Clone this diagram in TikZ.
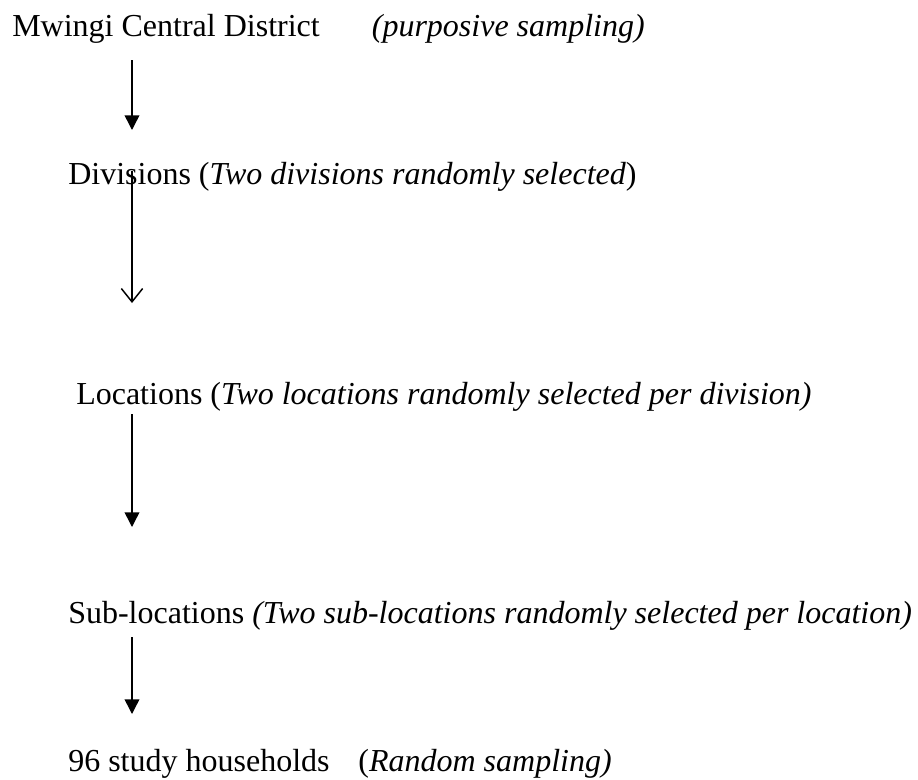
\documentclass[tikz,border=0pt]{standalone}
\usepackage{fontspec}
\setmainfont{Liberation Serif}
\usetikzlibrary{arrows,arrows.meta,positioning}
\tikzstyle{lbl} = [anchor=base west, inner sep=0pt, font=\fontsize{24}{28}\selectfont]
\tikzstyle{note} = [lbl, anchor=base east]
\tikzstyle{arrow} = [line width=1.1pt,-{Triangle[length=11pt,width=11pt]}]
\tikzstyle{openarrow} = [line width=1.1pt,-{Straight Barb[length=10pt,width=16pt,line width=1.1pt]}]

\begin{document}
\begin{tikzpicture}[x=0.75pt, y=-0.75pt]
\useasboundingbox (0,0) rectangle (918,779);
% Sampling levels
\node[lbl] (district) at (12,36) {Mwingi Central District};
\node[note] (districtnote) at (645,36) {\textit{(purposive sampling)}};
\node[lbl] (divisions) at (68,184) {Divisions (\textit{Two divisions randomly selected})};
\node[lbl] (locations) at (76,404) {Locations (\textit{Two locations randomly selected per division)}};
\node[lbl] (sublocations) at (68,623) {Sub-locations \textit{(Two sub-locations randomly selected per location)}};
\node[lbl] (households) at (68,771) {96 study households};
\node[note] (householdsnote) at (612,771) {(\textit{Random sampling)}};

% Arrow ends
\coordinate (s1) at (132,60);  \coordinate (e1) at (132,130);
\coordinate (s2) at (132,171); \coordinate (e2) at (132,303);
\coordinate (s3) at (132,414); \coordinate (e3) at (132,527);
\coordinate (s4) at (132,637); \coordinate (e4) at (132,714);

% Arrows between levels
\draw[arrow] (s1) -- (e1);
\draw[openarrow] (s2) -- (e2);
\draw[arrow] (s3) -- (e3);
\draw[arrow] (s4) -- (e4);
\end{tikzpicture}
\end{document}
